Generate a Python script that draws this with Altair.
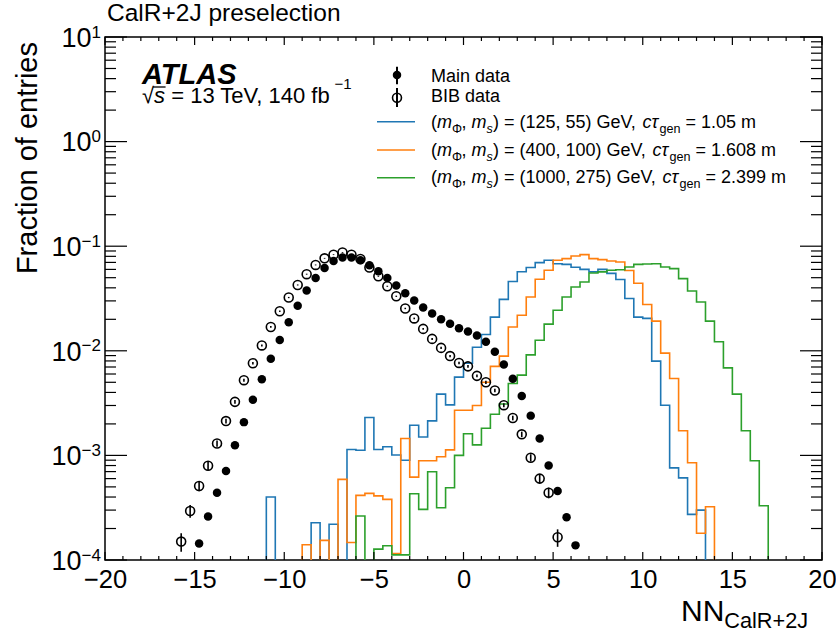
import altair as alt
import pandas as pd

# ---------------- data ----------------
BIN_W = 0.5
FLOOR = 1e-7  # empty bins drawn below the axis (clipped)

main_start = -14.75
main_vals = [1.44e-4, 2.6e-4, 4.4e-4, 7.1e-4, 1.25e-3, 2.08e-3, 3.4e-3, 5.35e-3, 8.4e-3,
             0.0127, 0.0187, 0.0269, 0.0377, 0.0497, 0.062, 0.0723, 0.0778, 0.0778, 0.0733,
             0.0657, 0.0576, 0.0497, 0.042, 0.0355, 0.0302, 0.0259, 0.0227, 0.020, 0.0181,
             0.0164, 0.0153, 0.014, 0.0122, 0.0098, 0.0074, 0.0054, 0.0037, 0.0024, 0.00145,
             8.0e-4, 4.56e-4, 2.56e-4, 1.38e-4]

bib_start = -15.75
bib_vals = [1.5e-4, 2.94e-4, 5.1e-4, 7.96e-4, 1.3e-3, 2.13e-3, 3.25e-3, 5.24e-3, 7.6e-3,
            0.01125, 0.0169, 0.0239, 0.0323, 0.0426, 0.054, 0.0662, 0.0766, 0.083, 0.087,
            0.083, 0.0755, 0.0625, 0.0516, 0.0414, 0.0332, 0.0254, 0.0204, 0.0162, 0.013,
            0.01066, 0.0089, 0.00766, 0.0071, 0.00576, 0.005, 0.00417, 0.00302, 0.00228,
            0.00159, 9.5e-4, 6.0e-4, 4.4e-4, 1.65e-4]
bib_rel_err = [0.20, 0.14, 0.11, 0.087, 0.068, 0.053, 0.043, 0.034, 0.028, 0.023, 0.019,
               0.016, 0.014, 0.012, 0.011, 0.01, 0.009, 0.009, 0.009, 0.009, 0.009, 0.01,
               0.011, 0.012, 0.014, 0.016, 0.018, 0.02, 0.022, 0.024, 0.026, 0.028, 0.029,
               0.032, 0.035, 0.038, 0.045, 0.051, 0.061, 0.08, 0.10, 0.117, 0.19]

blue_start = -11.0
blue_vals = [4.0e-4, 0, 0, 0, 0, 2.27e-4, 0, 2.2e-4, 0, 1.14e-3, 1.12e-3, 2.3e-3, 1.14e-3,
             1.21e-3, 1.01e-3, 9.0e-4, 1.94e-3, 1.5e-3, 2.14e-3, 3.85e-3, 3.04e-3, 5.6e-3,
             7.6e-3, 0.0108, 0.0143, 0.021, 0.031, 0.046, 0.057, 0.0625, 0.0697, 0.0733,
             0.068, 0.067, 0.063, 0.060, 0.0568, 0.060, 0.055, 0.048, 0.0316, 0.021, 0.0204,
             7.96e-3, 3.02e-3, 7.6e-4, 6.1e-4, 2.73e-4, 3.0e-4]

orange_start = -9.0
orange_vals = [1.4e-4, 0, 1.54e-4, 0, 5.9e-4, 1.47e-4, 4.15e-4, 4.33e-4, 4.1e-4, 3.8e-4,
               1.15e-4, 1.45e-3, 6.2e-4, 8.9e-4, 8.9e-4, 9.7e-4, 1.13e-3, 2.7e-3, 2.7e-3,
               3.0e-3, 5.0e-3, 7.1e-3, 8.9e-3, 0.0169, 0.0219, 0.0327, 0.0483, 0.0589,
               0.0733, 0.076, 0.0806, 0.083, 0.076, 0.0744, 0.0723, 0.0707, 0.0585, 0.0442,
               0.0277, 0.0192, 9.5e-3, 5.43e-3, 1.72e-3, 8.5e-4, 1.8e-4, 3.23e-4]

green_start = -6.0
green_vals = [2.63e-4, 0, 1.27e-4, 1.37e-4, 1.12e-4, 1.12e-4, 4.3e-4, 3.05e-4, 6.97e-4,
              3.16e-4, 4.9e-4, 1.0e-3, 1.61e-3, 1.26e-3, 1.82e-3, 2.47e-3, 3.1e-3, 4.87e-3,
              5.85e-3, 9.15e-3, 0.0126, 0.018, 0.0244, 0.0327, 0.0407, 0.0455, 0.0555,
              0.0568, 0.0589, 0.0595, 0.0632, 0.067, 0.0675, 0.068, 0.0632, 0.061, 0.049,
              0.0373, 0.0293, 0.0192, 0.0122, 6.87e-3, 3.85e-3, 1.72e-3, 8.9e-4, 3.3e-4]

sig_masses = ["125, 55", "400, 100", "1000, 275"]
sig_ctau = ["1.05", "1.608", "2.399"]
sig_colors = ["#1f77b4", "#ff7f0e", "#2ca02c"]

x_major = [-20, -15, -10, -5, 0, 5, 10, 15, 20]
x_minor = [v for v in range(-20, 21) if v % 5 != 0]
y_major_exp = [1, 0, -1, -2, -3, -4]
y_minor = [m * 10.0 ** e for e in range(-4, 1) for m in range(2, 10)]

# ---------------- layout ----------------
W, H = 717, 523
PL, PT, PR, PB = 105, 37, 14, 78
FONT = "Liberation Sans"
ONE = pd.DataFrame({"k": [0]})

XS = alt.Scale(domain=[-20, 20], nice=False, zero=False)
YS = alt.Scale(type="log", domain=[1e-4, 10], nice=False)
XA = alt.Axis(values=x_major, ticks=False, domain=False, grid=False, labelFontSize=25.5,
              labelFont=FONT, labelColor="black", labelPadding=7, labelFlush=False,
              labelOverlap=False, labelBound=False, title=None, format="d")

# Arial / Liberation Sans advance widths (per 1000 em)
AW = {' ': 278, '(': 333, ')': 333, ',': 278, '.': 278, '=': 584, '+': 584, 'G': 778,
      'e': 556, 'V': 667, 'm': 833, 's': 500, 'c': 500, 'g': 556, 'n': 556, 'M': 833,
      'a': 556, 'i': 222, 'd': 556, 't': 278, 'B': 667, 'I': 278, 'D': 722, 'T': 611,
      'f': 278, 'b': 556, '\u2212': 584, '\u03a6': 764, '\u03c4': 440, '\u221a': 549,
      'N': 722, 'C': 722, 'l': 222, 'R': 722, 'J': 500, 'p': 556, 'r': 333, 'o': 556}


def tw(s, size):
    return sum(AW.get(ch, 556) for ch in s) * size / 1000.0


pieces = []


def add_row(x0, y0, parts, size, small=None, sub_dy=5.0, sup_dy=-9.0):
    x = x0
    for text, kind in parts:
        s, dy = size, 0.0
        if kind in ("sub", "subi"):
            s, dy = small, sub_dy
        elif kind == "sup":
            s, dy = small, sup_dy
        style = "italic" if kind in ("i", "subi") else "normal"
        # SVG drops leading/trailing blanks: advance over them explicitly
        lead = len(text) - len(text.lstrip(" "))
        x += tw(" " * lead, s)
        core = text.strip(" ")
        if core:
            pieces.append((core, x, y0 + dy, s, style))
        x += tw(text[lead:], s)
    return x


def text_layer(t, x, y, s, style="normal", weight="normal", align="left", angle=0):
    kw = dict(text=t, align=align, baseline="alphabetic", font=FONT, fontSize=s,
              fontStyle=style, fontWeight=weight, color="black")
    if angle:
        kw["angle"] = angle
    return alt.Chart(ONE).mark_text(**kw).encode(x=alt.value(x - PL), y=alt.value(y - PT))


# ---------------- histograms ----------------
rows = []
for name, start, vals in [("s125", blue_start, blue_vals), ("s400", orange_start, orange_vals),
                          ("s1000", green_start, green_vals)]:
    seq = [(start, FLOOR)]
    for i, v in enumerate(vals):
        seq.append((start + i * BIN_W, v if v > 0 else FLOOR))
    end = start + len(vals) * BIN_W
    seq.append((end, vals[-1] if vals[-1] > 0 else FLOOR))
    seq.append((end, FLOOR))
    for k, (x, y) in enumerate(seq):
        rows.append({"series": name, "x": x, "y": y, "k": k})
hist_df = pd.DataFrame(rows)

hist = alt.Chart(hist_df).mark_line(interpolate="step-after", strokeWidth=1.6, clip=True).encode(
    x=alt.X("x:Q", scale=XS, axis=XA),
    y=alt.Y("y:Q", scale=YS, axis=None),
    color=alt.Color("series:N", scale=alt.Scale(domain=["s125", "s400", "s1000"], range=sig_colors),
                    legend=None),
    order="k:Q",
)

# ---------------- data points ----------------
main_df = pd.DataFrame({"x": [main_start + i * BIN_W for i in range(len(main_vals))], "y": main_vals})
bib_df = pd.DataFrame({
    "x": [bib_start + i * BIN_W for i in range(len(bib_vals))],
    "y": bib_vals,
    "lo": [v * (1 - e) for v, e in zip(bib_vals, bib_rel_err)],
    "hi": [v * (1 + e) for v, e in zip(bib_vals, bib_rel_err)],
})

bib_err = alt.Chart(bib_df).mark_rule(color="black", strokeWidth=1.6).encode(
    x=alt.X("x:Q", scale=XS, axis=XA), y=alt.Y("lo:Q", scale=YS, axis=None), y2="hi:Q")
bib_pts = alt.Chart(bib_df).mark_point(shape="circle", filled=False, color="black", strokeWidth=1.6,
                                       size=80, opacity=1).encode(
    x=alt.X("x:Q", scale=XS, axis=XA), y=alt.Y("y:Q", scale=YS, axis=None))
main_pts = alt.Chart(main_df).mark_point(shape="circle", filled=True, color="black", size=72,
                                         opacity=1).encode(
    x=alt.X("x:Q", scale=XS, axis=XA), y=alt.Y("y:Q", scale=YS, axis=None))

# ---------------- ticks (inside, all four sides) ----------------
xmaj_df = pd.DataFrame({"v": x_major})
xmin_df = pd.DataFrame({"v": x_minor})
ymaj_df = pd.DataFrame({"v": [10.0 ** e for e in y_major_exp]})
ymin_df = pd.DataFrame({"v": y_minor})
tick_layers = []
for df, ln in [(xmaj_df, 8), (xmin_df, 4)]:
    for y0, y1 in [(H, H - ln), (0, ln)]:
        tick_layers.append(alt.Chart(df).mark_rule(color="black", strokeWidth=1.2).encode(
            x=alt.X("v:Q", scale=XS, axis=XA), y=alt.value(y0), y2=alt.value(y1)))
for df, ln in [(ymaj_df, 22), (ymin_df, 11)]:
    for x0, x1 in [(0, ln), (W, W - ln)]:
        tick_layers.append(alt.Chart(df).mark_rule(color="black", strokeWidth=1.2).encode(
            y=alt.Y("v:Q", scale=YS, axis=None), x=alt.value(x0), x2=alt.value(x1)))

# ---------------- y tick labels (10 with superscript exponent) ----------------
ylab_layers = []
for e in y_major_exp:
    sup = str(e).replace("-", "\u2212")
    wsup = tw(sup, 17)
    xr = 101 - wsup - PL
    ylab_layers.append(alt.Chart(ONE).mark_text(text="10", align="right", baseline="alphabetic",
                                                font=FONT, fontSize=27, dy=9.7, color="black").encode(
        x=alt.value(xr), y=alt.YDatum(10.0 ** e, type="quantitative", scale=YS, axis=None)))
    ylab_layers.append(alt.Chart(ONE).mark_text(text=sup, align="left", baseline="alphabetic",
                                                font=FONT, fontSize=17, dy=0.5, color="black").encode(
        x=alt.value(xr), y=alt.YDatum(10.0 ** e, type="quantitative", scale=YS, axis=None)))

# ---------------- texts ----------------
add_row(107, 21, [("CalR+2J preselection", "n")], 24.5)
x_after_rad = 142 + tw("\u221a", 22)
add_row(142, 102.5, [("\u221a", "n"), ("s", "i"), (" = 13 TeV, 140 fb", "n"), ("\u22121", "sup")],
        22, 15, sup_dy=-14)
add_row(431, 81.5, [("Main data", "n")], 18)
add_row(431, 101.5, [("BIB data", "n")], 18)
row_y = [127.7, 155.7, 183.3]
for m, c, yy in zip(sig_masses, sig_ctau, row_y):
    add_row(431, yy, [("(", "n"), ("m", "i"), ("\u03a6", "sub"), (", ", "n"), ("m", "i"),
                      ("s", "subi"), (") = (" + m + ") GeV, ", "n"), ("c\u03c4", "i"),
                      ("gen", "sub"), (" = " + c + " m", "n")], 18, 12.6, sub_dy=5)
add_row(681, 621, [("NN", "n"), ("CalR+2J", "sub")], 30, 21.7, sub_dy=7)

text_layers = [text_layer(t, x, y, s, style) for (t, x, y, s, style) in pieces]
text_layers.append(text_layer("ATLAS", 142, 84, 29, style="italic", weight="bold"))
text_layers.append(text_layer("Fraction of entries", 37, 42, 29, align="right", angle=270))

# radical vinculum over s
deco = [alt.Chart(ONE).mark_rule(color="black", strokeWidth=1.3).encode(
    x=alt.value(x_after_rad - 1 - PL), x2=alt.value(x_after_rad + tw("s", 22) + 0.5 - PL),
    y=alt.value(87 - PT))]

# ---------------- legend ----------------
LX = 397
legend = [
    alt.Chart(ONE).mark_rule(color="black", strokeWidth=2).encode(
        x=alt.value(LX - PL), y=alt.value(66.7 - PT), y2=alt.value(84.3 - PT)),
    alt.Chart(ONE).mark_point(shape="circle", filled=True, color="black", size=72, opacity=1).encode(
        x=alt.value(LX - PL), y=alt.value(75 - PT)),
    alt.Chart(ONE).mark_rule(color="black", strokeWidth=2).encode(
        x=alt.value(LX - PL), y=alt.value(88 - PT), y2=alt.value(107 - PT)),
    alt.Chart(ONE).mark_point(shape="circle", filled=False, color="black", strokeWidth=1.6, size=80,
                              opacity=1).encode(x=alt.value(LX - PL), y=alt.value(97.7 - PT)),
]
for col, yy in zip(sig_colors, [121.7, 150, 177.7]):
    legend.append(alt.Chart(ONE).mark_rule(color=col, strokeWidth=1.6).encode(
        x=alt.value(377 - PL), x2=alt.value(415 - PL), y=alt.value(yy - PT)))

chart = alt.layer(hist, bib_err, bib_pts, main_pts, *tick_layers, *ylab_layers, *deco, *legend,
                  *text_layers).properties(
    width=W, height=H,
    autosize=alt.AutoSizeParams(type="none"),
    padding={"left": PL, "top": PT, "right": PR, "bottom": PB},
    background="white",
).configure_view(stroke="black", strokeWidth=1.5)

chart.save("out.html", embed_options={"renderer": "svg", "actions": False})
